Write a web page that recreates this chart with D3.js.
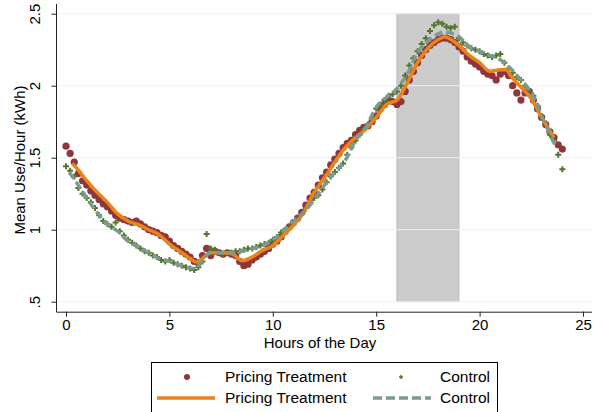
<!DOCTYPE html>
<meta charset="utf-8">
<head>
    <title>Mean Use per Hour</title>
    <script src="https://cdn.jsdelivr.net/npm/d3@7"></script>
    <style>
        body { margin: 0; background: #fff; }
        text { font-family: "Liberation Sans", Arial, sans-serif; fill: #000; }
    </style>
</head>
<body>
<script>
    // scatter: one value every 0.2 hours, 0 .. 24
    var dotHours = d3.range(0, 121).map(function(i){ return i / 5; });
    var treDots = [1.58,1.53,1.47,1.39,1.34,1.31,1.27,1.24,1.21,1.18,
                   1.16,1.13,1.10,1.08,1.07,1.06,1.05,1.06,1.04,1.02,
                   1.00,0.99,0.98,0.96,0.95,0.92,0.89,0.87,0.85,0.83,
                   0.81,0.78,0.77,0.82,0.87,0.82,0.85,0.84,0.83,0.84,
                   0.83,0.82,0.78,0.75,0.76,0.79,0.81,0.83,0.85,0.87,
                   0.90,0.92,0.95,0.99,1.02,1.05,1.08,1.12,1.17,1.22,
                   1.26,1.31,1.36,1.40,1.45,1.49,1.53,1.57,1.60,1.62,
                   1.66,1.69,1.71,1.72,1.75,1.79,1.84,1.87,1.90,1.89,
                   1.87,1.89,1.96,2.04,2.10,2.16,2.21,2.25,2.28,2.30,
                   2.32,2.33,2.33,2.32,2.30,2.27,2.24,2.20,2.17,2.15,
                   2.13,2.10,2.08,2.07,2.04,2.08,2.10,2.07,2.00,1.95,
                   1.90,1.95,1.96,1.90,1.84,1.78,1.73,1.68,1.64,1.59,
                   1.56];
    var ctlDots = [1.44,1.41,1.37,1.29,1.25,1.22,1.19,1.15,1.10,1.06,
                   1.04,1.02,1.05,0.99,0.96,0.93,0.91,0.89,0.87,0.85,
                   0.84,0.82,0.81,0.79,0.78,0.79,0.77,0.76,0.75,0.74,
                   0.73,0.72,0.74,0.78,0.97,0.87,0.86,0.84,0.83,0.84,
                   0.84,0.85,0.85,0.86,0.87,0.87,0.88,0.89,0.90,0.91,
                   0.93,0.95,0.98,1.00,1.02,1.05,1.08,1.11,1.15,1.18,
                   1.22,1.24,1.28,1.33,1.37,1.40,1.43,1.46,1.52,1.57,
                   1.62,1.66,1.70,1.73,1.78,1.84,1.87,1.90,1.93,1.94,
                   1.96,2.00,2.07,2.14,2.19,2.24,2.29,2.33,2.38,2.42,
                   2.44,2.43,2.41,2.40,2.41,2.33,2.30,2.28,2.26,2.25,
                   2.24,2.22,2.21,2.20,2.21,2.22,2.16,2.12,2.09,2.06,
                   2.04,2.00,1.96,1.93,1.86,1.79,1.74,1.66,1.62,1.52,
                   1.42];

    // smoothed lines
    var treLineHours = [0.3,0.5,1,1.5,2,2.5,3,3.5,4,4.5,5,5.5,6,6.3,6.5,7,7.5,8,8.5,9,9.5,10,
                        10.5,11,11.5,12,12.5,13,13.5,14,14.5,15,15.5,16,16.5,17,17.5,18,18.3,
                        18.5,19,19.5,20,20.5,21,21.3,21.5,22,22.5,23,23.6];
    var treLine = [1.46,1.43,1.34,1.26,1.19,1.11,1.06,1.035,1.00,0.965,0.90,0.85,0.80,0.775,0.79,
                   0.84,0.84,0.835,0.785,0.81,0.855,0.89,0.96,1.03,1.12,1.26,1.36,1.47,1.57,1.64,
                   1.70,1.78,1.87,1.90,2.02,2.16,2.26,2.32,2.34,2.33,2.28,2.21,2.16,2.10,2.11,2.11,
                   2.07,1.99,1.91,1.78,1.64];
    var ctlLineHours = [0.15,0.5,1,1.5,2,2.5,3,3.5,4,4.5,5,5.5,6,6.3,6.5,7,7.5,8,8.5,9,9.5,10,
                        10.5,11,11.5,12,12.5,13,13.5,14,14.5,15,15.5,16,16.5,17,17.5,18,18.3,
                        18.5,19,19.5,20,20.5,21,21.5,22,22.5,23,23.7];
    var ctlLine = [1.40,1.33,1.22,1.12,1.04,0.99,0.92,0.88,0.84,0.80,0.78,0.755,0.735,0.73,0.77,
                   0.84,0.84,0.84,0.85,0.87,0.89,0.93,0.99,1.06,1.12,1.21,1.31,1.40,1.48,1.62,
                   1.71,1.85,1.92,1.98,2.08,2.23,2.31,2.36,2.375,2.37,2.34,2.27,2.24,2.21,2.18,
                   2.12,2.04,1.95,1.79,1.57];

    var xTicks = [0, 5, 10, 15, 20, 25];
    var yTicks = [0.5, 1, 1.5, 2, 2.5];
    var yTickLabels = [".5", "1", "1.5", "2", "2.5"];
    var peakWindow = [16, 19];

    var width = 605, height = 412;
    var svg = d3.select("body").append("svg")
        .attr("width", width)
        .attr("height", height);

    var x = d3.scaleLinear().domain([0, 25]).range([66, 583]);
    var y = d3.scaleLinear().domain([0.5, 2.5]).range([301.7, 13.7]);

    // peak pricing window
    svg.append("rect")
        .attr("x", x(peakWindow[0]))
        .attr("y", y(2.5))
        .attr("width", x(peakWindow[1]) - x(peakWindow[0]))
        .attr("height", y(0.5) - y(2.5))
        .attr("fill", "#cccccc")
        .attr("stroke", "#bcbcbc")
        .attr("stroke-width", 1);

    // grid lines
    svg.append("g").selectAll("line")
        .data(yTicks)
        .enter().append("line")
        .attr("x1", 57).attr("x2", 592)
        .attr("y1", function(d){ return y(d); })
        .attr("y2", function(d){ return y(d); })
        .attr("stroke", "#eaf2f3")
        .attr("stroke-width", 1);

    // scatter treatment
    svg.append("g").selectAll("circle")
        .data(dotHours)
        .enter().append("circle")
        .attr("cx", function(d){ return x(d); })
        .attr("cy", function(d, i){ return y(treDots[i]); })
        .attr("r", 3.6)
        .attr("fill", "#90353b");

    // scatter control
    svg.append("g").selectAll("path")
        .data(dotHours)
        .enter().append("path")
        .attr("transform", function(d, i){ return "translate(" + x(d) + "," + y(ctlDots[i]) + ")"; })
        .attr("d", "M-3,0H3M0,-3V3")
        .attr("stroke", "#55752f")
        .attr("stroke-width", 2);

    var line = d3.line()
        .x(function(d){ return x(d[0]); })
        .y(function(d){ return y(d[1]); })
        .curve(d3.curveMonotoneX);

    svg.append("path")
        .attr("d", line(d3.zip(treLineHours, treLine)))
        .attr("fill", "none")
        .attr("stroke", "#e8841a")
        .attr("stroke-width", 3.5);

    svg.append("path")
        .attr("d", line(d3.zip(ctlLineHours, ctlLine)))
        .attr("fill", "none")
        .attr("stroke", "#7b9a91")
        .attr("stroke-width", 3.5)
        .attr("stroke-dasharray", "8,4");

    // axes
    var xAxis = svg.append("g")
        .attr("transform", "translate(0,311.7)")
        .call(d3.axisBottom(x).tickValues(xTicks).tickSize(5).tickPadding(3).tickSizeOuter(0));
    xAxis.select(".domain").attr("d", "M56.5,0.5H592");
    xAxis.selectAll("text").style("font-size", "15px").attr("fill", "#000");

    var yAxis = svg.append("g")
        .attr("transform", "translate(56.5,0)")
        .call(d3.axisLeft(y).tickValues(yTicks).tickSize(5).tickSizeOuter(0)
            .tickFormat(function(d, i){ return yTickLabels[i]; }));
    yAxis.select(".domain").attr("d", "M0,4V312");
    yAxis.selectAll("text")
        .style("font-size", "15px")
        .attr("fill", "#000")
        .attr("text-anchor", "middle")
        .attr("transform", "rotate(-90)")
        .attr("x", 0)
        .attr("y", -17)
        .attr("dy", "0");
    svg.selectAll(".domain, .tick line").attr("stroke", "#222");

    svg.append("text")
        .attr("x", 320).attr("y", 348)
        .attr("text-anchor", "middle")
        .style("font-size", "15px")
        .text("Hours of the Day");

    svg.append("text")
        .attr("transform", "translate(25,160) rotate(-90)")
        .attr("text-anchor", "middle")
        .style("font-size", "15px")
        .text("Mean Use/Hour (kWh)");

    // legend
    var legend = svg.append("g");
    legend.append("rect")
        .attr("x", 151.5).attr("y", 362.5)
        .attr("width", 346).attr("height", 60)
        .attr("fill", "#fff")
        .attr("stroke", "#000");
    legend.append("circle")
        .attr("cx", 187).attr("cy", 377).attr("r", 3)
        .attr("fill", "#90353b");
    legend.append("path")
        .attr("transform", "translate(401,377)")
        .attr("d", "M-2,0H2M0,-2V2")
        .attr("stroke", "#55752f")
        .attr("stroke-width", 1.5);
    legend.append("line")
        .attr("x1", 157).attr("x2", 215).attr("y1", 398).attr("y2", 398)
        .attr("stroke", "#e8841a").attr("stroke-width", 3.5);
    legend.append("line")
        .attr("x1", 373).attr("x2", 431).attr("y1", 398).attr("y2", 398)
        .attr("stroke", "#7b9a91").attr("stroke-width", 3.5)
        .attr("stroke-dasharray", "9,4");
    var legendText = [["Pricing Treatment", 225, 377], ["Control", 440, 377],
                      ["Pricing Treatment", 225, 398], ["Control", 440, 398]];
    legend.selectAll("text.lab")
        .data(legendText)
        .enter().append("text")
        .attr("class", "lab")
        .attr("x", function(d){ return d[1]; })
        .attr("y", function(d){ return d[2]; })
        .attr("dy", "0.35em")
        .style("font-size", "15.5px")
        .text(function(d){ return d[0]; });
</script>
</body>
</html>
